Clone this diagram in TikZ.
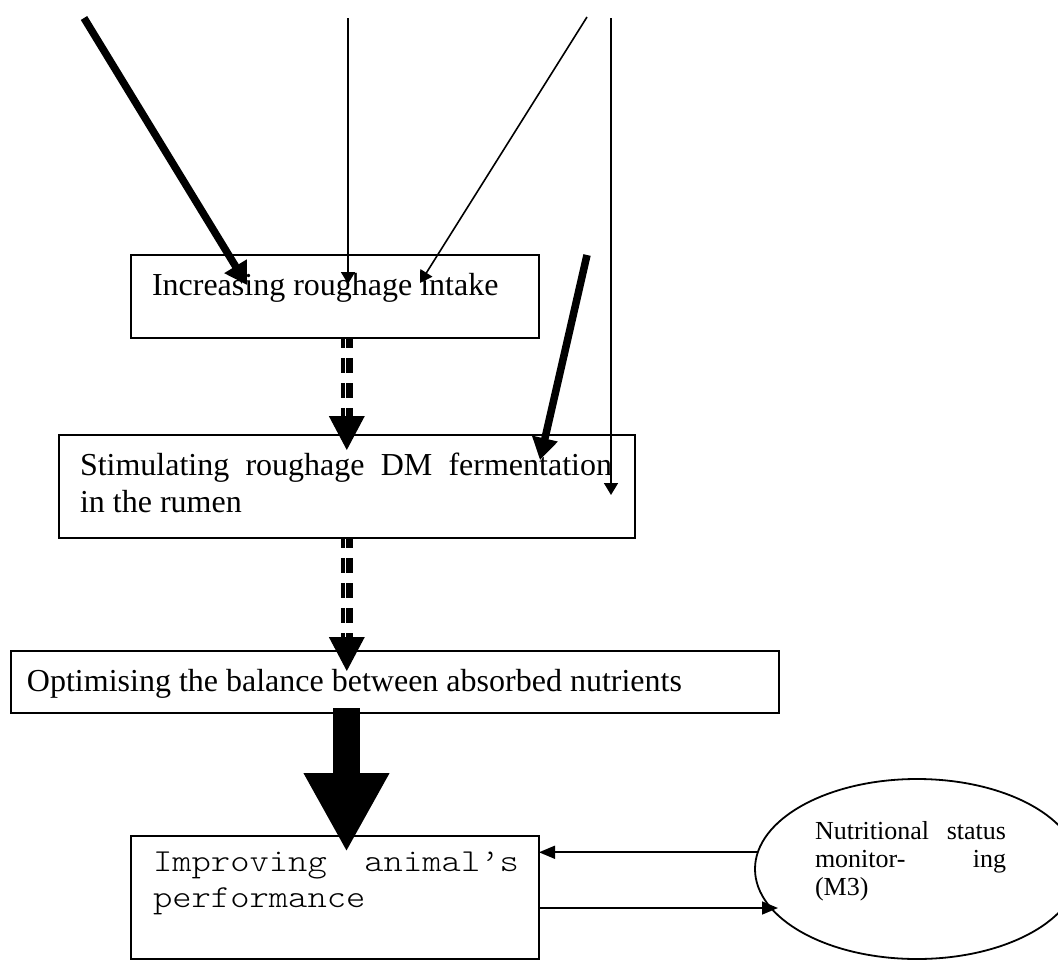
\documentclass[tikz,border=0pt]{standalone}
\usepackage{fontspec}
\setmainfont{Liberation Serif}
\newfontfamily\courier[FakeStretch=1.15]{Latin Modern Mono Light}
\usetikzlibrary{arrows.meta,shapes.geometric,calc}
\begin{document}
\begin{tikzpicture}[x=1pt,y=-1pt,line join=miter,
  box/.style={draw,line width=2pt,rectangle,inner sep=0pt,outer sep=0pt,anchor=north west},
  lbl/.style={inner sep=0pt,outer sep=0pt,anchor=base west,font=\fontsize{32}{37}\selectfont},
  small/.style={inner sep=0pt,outer sep=0pt,anchor=base west,font=\fontsize{26}{28}\selectfont},
  heavy/.style={line width=7.5pt,-{Triangle[length=22pt,width=25pt]}},
  light/.style={line width=1.6pt,-{Triangle[length=12pt,width=14pt]}},
  fb/.style={line width=1.6pt,-{Triangle[length=16pt,width=13pt]}},
  stripe/.style={dash pattern=on 15pt off 10pt,dash phase=5pt},
  block/.style={line width=27pt,-{Triangle[length=79pt,width=80pt]}}]
\useasboundingbox (0,0) rectangle (1058,961);

% boxes
\node[box,minimum width=408pt,minimum height=83pt]  (b1) at (131,255) {};
\node[box,minimum width=576pt,minimum height=103pt] (b2) at (59,435) {};
\node[box,minimum width=768pt,minimum height=62pt]  (b3) at (11,651) {};
\node[box,minimum width=408pt,minimum height=123pt] (b4) at (131,836) {};
\node[draw,ellipse,line width=1.8pt,minimum width=324pt,minimum height=180pt,
      inner sep=0pt,outer sep=0pt] (ell) at (917,869) {};

% texts
\node[lbl] (t1) at (152,295) {Increasing roughage intake};
\node[lbl] (t2) at (80,475) {\parbox[t]{532pt}{\baselineskip=37pt
  \makebox[532pt][s]{Stimulating roughage DM fermentation}\\in the rumen}};
\node[lbl] (t3) at (27,691) {Optimising the balance between absorbed nutrients};
\node[lbl] (t4) at (153,871) {\parbox[t]{366pt}{\courier\baselineskip=36pt
  \makebox[366pt]{Improving\hfill animal’s}\\performance}};
\node[small] (t5) at (815,839) {\parbox[t]{191pt}{\baselineskip=28pt
  \makebox[191pt]{Nutritional\hfill status}\\\makebox[191pt]{monitor-\hfill ing}\\(M3)}};

% free ends of the incoming arrows
\coordinate (s1) at (84,18);
\coordinate (s2) at (348,18);
\coordinate (s3) at (587,17);
\coordinate (s4) at (611,18);
\coordinate (s5) at (587,255);
\coordinate (e1) at ($(b1.north west)+(116,30)$);
\coordinate (e2) at ($(b1.north west)+(217,29)$);
\coordinate (e3) at ($(b1.north west)+(289,28)$);
\coordinate (e4) at ($(b2.north west)+(552,60)$);
\coordinate (e5) at ($(b2.north west)+(481,25)$);

\draw[heavy] (s1) -- (e1);
\draw[light] (s2) -- (e2);
\draw[light] (s3) -- (e3);
\draw[light] (s4) -- (e4);
\draw[heavy] (s5) -- (e5);

% striped arrows between the boxes
\coordinate (h1) at ($(b2.north west)+(287.8,15)$);
\coordinate (h2) at ($(b3.north west)+(335.8,20)$);
\foreach \h/\b in {h1/b1,h2/b2}{
  \draw[line width=3.3pt,stripe] ($(\b.south -| \h)+(-3.8,0)$) -- ($(\h)+(-3.8,-32)$);
  \draw[line width=6.6pt,stripe] ($(\b.south -| \h)+(2.5,0)$) -- ($(\h)+(2.5,-32)$);
  \fill ($(\h)+(-18,-34)$) -- ($(\h)+(18,-34)$) -- (\h) -- cycle;
}

% block arrow
\coordinate (h3) at ($(b4.north west)+(215.5,16)$);
\draw[block] ($(b3.south -| h3)+(0,-5)$) -- (h3);

% monitoring loop
\coordinate (fl) at (778,908);
\draw[fb] (ell.174) -- (b4.east |- ell.174);
\draw[fb] (b4.east |- fl) -- (fl);
\end{tikzpicture}
\end{document}
